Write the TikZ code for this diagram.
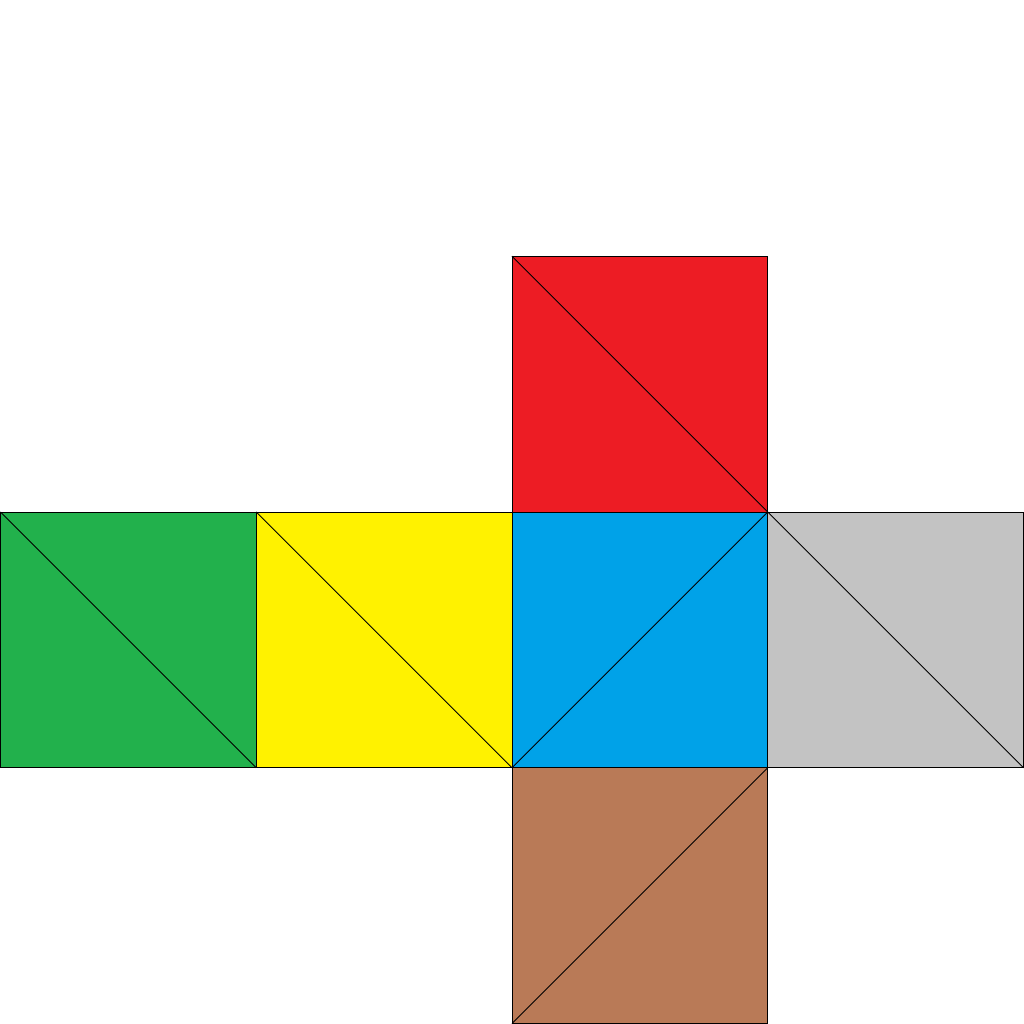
\documentclass[tikz,border=0pt]{standalone}
\usepackage{tikz}
\usepackage{xcolor}

\definecolor{facered}{HTML}{ED1C24}
\definecolor{facegreen}{HTML}{22B14C}
\definecolor{faceyellow}{HTML}{FFF200}
\definecolor{faceblue}{HTML}{00A2E8}
\definecolor{facegray}{HTML}{C3C3C3}
\definecolor{facebrown}{HTML}{B97A57}

\begin{document}
\begin{tikzpicture}[
  x=2cm, y=2cm,
  face/.style={draw=black, line width=0.2pt},
  diag/.style={draw=black, line width=0.2pt}
]
  \useasboundingbox ([shift={(-0.1pt,-0.1pt)}]0,0) rectangle ([shift={(0.1pt,0.1pt)}]4,4);
  % middle row, diagonal top-left to bottom-right
  \foreach \col/\c in {0/facegreen, 1/faceyellow, 3/facegray}{
    \path[face, fill=\c] (\col,1) rectangle ++(1,1);
    \draw[diag] (\col,2) -- ++(1,-1);
  }
  % top face
  \path[face, fill=facered] (2,2) rectangle (3,3);
  \draw[diag] (2,3) -- (3,2);
  % centre and bottom, diagonal bottom-left to top-right
  \path[face, fill=faceblue] (2,1) rectangle (3,2);
  \draw[diag] (2,1) -- (3,2);
  \path[face, fill=facebrown] (2,0) rectangle (3,1);
  \draw[diag] (2,0) -- (3,1);
\end{tikzpicture}
\end{document}
